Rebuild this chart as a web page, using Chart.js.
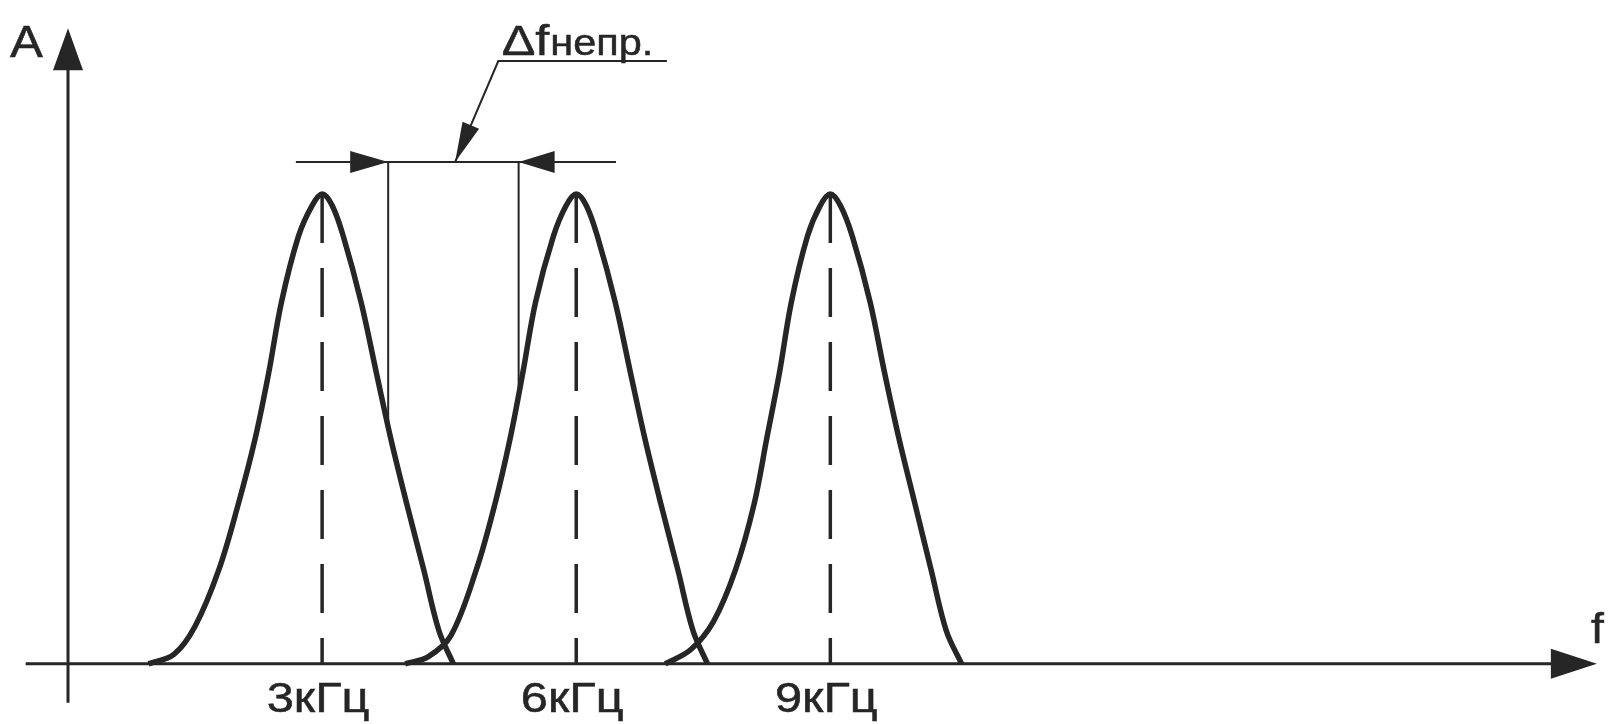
<!DOCTYPE html>
<html>
<head>
<meta charset="utf-8">
<script src="https://cdn.jsdelivr.net/npm/chart.js@4.4.1/dist/chart.umd.min.js"></script>
<style>
  html, body { margin: 0; padding: 0; background: #fff; }
  #wrap { width: 1610px; height: 724px; position: relative; }
</style>
</head>
<body>
<div id="wrap"><canvas id="spectrum"></canvas></div>
<script>
// peaks, f in kHz, A relative
const peakF = [3, 6, 9];
const tickLabels = ["3кГц", "6кГц", "9кГц"];

const peak1F = [0.95, 1.25, 1.50, 1.78, 2.01, 2.21, 2.37, 2.52, 2.72, 2.88, 3.00, 3.12, 3.25, 3.46, 3.64, 3.81, 4.00, 4.20, 4.38, 4.55];
const peak1A = [0, 0.02, 0.08, 0.20, 0.34, 0.48, 0.62, 0.77, 0.91, 0.975, 1.0, 0.975, 0.91, 0.77, 0.62, 0.48, 0.34, 0.20, 0.07, 0];

const peak2F = [3.98, 4.25, 4.52, 4.82, 5.04, 5.22, 5.37, 5.52, 5.73, 5.88, 6.00, 6.12, 6.25, 6.46, 6.64, 6.81, 7.00, 7.20, 7.38, 7.55];
const peak2A = [0, 0.015, 0.06, 0.20, 0.34, 0.48, 0.62, 0.77, 0.91, 0.975, 1.0, 0.975, 0.91, 0.77, 0.62, 0.48, 0.34, 0.20, 0.07, 0];

const peak3F = [7.05, 7.35, 7.62, 7.88, 8.10, 8.25, 8.40, 8.54, 8.73, 8.88, 9.00, 9.12, 9.26, 9.47, 9.64, 9.81, 10.00, 10.19, 10.37, 10.55];
const peak3A = [0, 0.03, 0.09, 0.20, 0.34, 0.48, 0.62, 0.77, 0.91, 0.975, 1.0, 0.975, 0.91, 0.77, 0.62, 0.48, 0.34, 0.20, 0.07, 0];

// axes extent
const axisF = [-0.5, 18.05];
const axisA = [-0.083, 1.353];

// the gap dimension (Δf непр.)
const gapF = [3.78, 5.32];
const gapBottomA = [0.51, 0.57];
const dimLineF = [2.69, 6.47];
const dimLineA = 1.068;
const leaderF = [4.57, 5.08, 7.07];
const leaderA = [1.068, 1.283, 1.283];

const ink = "#262626";

function pts(fs, as) {
  return fs.map((f, i) => ({ x: f, y: as[i] }));
}

function arrowHead(ctx, tipX, tipY, fromX, fromY, len, halfW) {
  const dx = tipX - fromX, dy = tipY - fromY;
  const d = Math.sqrt(dx * dx + dy * dy);
  const ux = dx / d, uy = dy / d;
  const bx = tipX - ux * len, by = tipY - uy * len;
  ctx.beginPath();
  ctx.moveTo(tipX, tipY);
  ctx.lineTo(bx - uy * halfW, by + ux * halfW);
  ctx.lineTo(bx + uy * halfW, by - ux * halfW);
  ctx.closePath();
  ctx.fill();
}

// text in the scan is a bit wider than the font
function stretchText(ctx, text, x, y, font, sx, align) {
  ctx.save();
  ctx.font = font;
  ctx.textBaseline = "alphabetic";
  let w = ctx.measureText(text).width * sx;
  let x0 = x;
  if (align === "center") x0 = x - w / 2;
  ctx.translate(x0, y);
  ctx.scale(sx, 1);
  ctx.textAlign = "left";
  ctx.lineWidth = 0.5;
  ctx.fillText(text, 0, 0);
  ctx.strokeText(text, 0, 0);
  ctx.restore();
  return w;
}

const drawing = {
  id: "drawing",
  beforeDatasetsDraw(chart) {
    const ctx = chart.ctx;
    const xs = chart.scales.x, ys = chart.scales.y;
    ctx.save();
    ctx.strokeStyle = ink;
    ctx.fillStyle = ink;

    // axes
    const x0 = xs.getPixelForValue(0), y0 = ys.getPixelForValue(0);
    ctx.lineWidth = 3;
    ctx.beginPath();
    ctx.moveTo(xs.getPixelForValue(axisF[0]), y0);
    ctx.lineTo(xs.getPixelForValue(axisF[1]) - 30, y0);
    ctx.moveTo(x0, ys.getPixelForValue(axisA[0]));
    ctx.lineTo(x0, ys.getPixelForValue(axisA[1]) + 30);
    ctx.stroke();
    arrowHead(ctx, xs.getPixelForValue(axisF[1]), y0, x0, y0, 46, 15);
    arrowHead(ctx, x0, ys.getPixelForValue(axisA[1]), x0, y0, 42, 15);

    // dashed centre lines
    ctx.lineWidth = 3.5;
    ctx.setLineDash([49, 25]);
    peakF.forEach(f => {
      const px = xs.getPixelForValue(f);
      ctx.beginPath();
      ctx.moveTo(px, ys.getPixelForValue(1));
      ctx.lineTo(px, y0);
      ctx.stroke();
    });
    ctx.setLineDash([]);

    // dimension lines
    const dy = ys.getPixelForValue(dimLineA);
    ctx.lineWidth = 2;
    ctx.beginPath();
    ctx.moveTo(xs.getPixelForValue(dimLineF[0]), dy);
    ctx.lineTo(xs.getPixelForValue(dimLineF[1]), dy);
    gapF.forEach((f, i) => {
      const px = xs.getPixelForValue(f);
      ctx.moveTo(px, dy);
      ctx.lineTo(px, ys.getPixelForValue(gapBottomA[i]));
    });
    ctx.stroke();
    const gl = xs.getPixelForValue(gapF[0]), gr = xs.getPixelForValue(gapF[1]);
    arrowHead(ctx, gl, dy, gl - 50, dy, 38, 11);
    arrowHead(ctx, gr, dy, gr + 50, dy, 36, 11);

    // leader
    const lx = leaderF.map(f => xs.getPixelForValue(f));
    const ly = leaderA.map(a => ys.getPixelForValue(a));
    ctx.beginPath();
    ctx.moveTo(lx[0], ly[0]);
    ctx.lineTo(lx[1], ly[1]);
    ctx.lineTo(lx[2], ly[2]);
    ctx.stroke();
    arrowHead(ctx, lx[0], ly[0], lx[1], ly[1], 40, 9);

    // texts
    stretchText(ctx, "A", x0 - 58, ys.getPixelForValue(axisA[1]) + 29, '44px "Liberation Sans"', 1.12, "left");
    stretchText(ctx, "f", 1591, y0 - 21, '42px "Liberation Sans"', 1.1, "left");
    peakF.forEach((f, i) => {
      stretchText(ctx, tickLabels[i], xs.getPixelForValue(f) - 4, y0 + 48, '42px "Liberation Sans"', 1.16, "center");
    });
    const tx = xs.getPixelForValue(5.12), ty = ys.getPixelForValue(1.296);
    const w1 = stretchText(ctx, "Δf", tx, ty, '42px "Liberation Sans"', 1.2, "left");
    stretchText(ctx, "непр.", tx + w1 + 1, ty, '37px "Liberation Sans"', 1.12, "left");
    ctx.restore();
  }
};

function peakSet(fs, as) {
  return {
    data: pts(fs, as),
    showLine: true,
    borderColor: ink,
    borderWidth: 5.5,
    pointRadius: 0,
    fill: false,
    tension: 0.35
  };
}

new Chart(document.getElementById("spectrum"), {
  type: "scatter",
  data: {
    datasets: [
      peakSet(peak1F, peak1A),
      peakSet(peak2F, peak2A),
      peakSet(peak3F, peak3A)
    ]
  },
  options: {
    responsive: true,
    maintainAspectRatio: false,
    animation: false,
    layout: { padding: 0 },
    plugins: { legend: { display: false }, tooltip: { enabled: false } },
    scales: {
      x: { type: "linear", min: -0.803, max: 18.205, display: false },
      y: { type: "linear", min: -0.128, max: 1.413, display: false }
    }
  },
  plugins: [drawing]
});
</script>
</body>
</html>
